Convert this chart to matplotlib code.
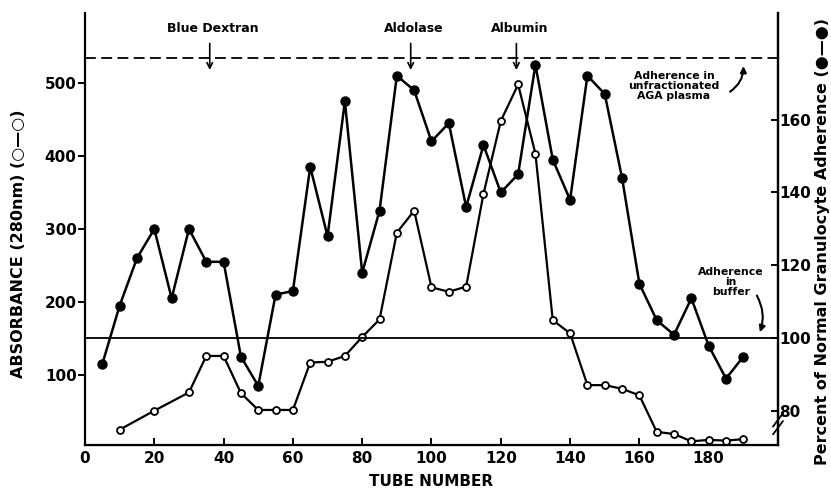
import matplotlib
matplotlib.use("Agg")
import matplotlib.pyplot as plt

# absorbance (open circles, left axis)
abs_tubes = [10, 20, 30, 35, 40, 45, 50, 55, 60, 65, 70, 75, 80, 85, 90, 95,
             100, 105, 110, 115, 120, 125, 130, 135, 140, 145, 150, 155, 160,
             165, 170, 175, 180, 185, 190]
absorbance = [25, 51, 76, 126, 126, 75, 52, 52, 52, 117, 118, 126, 152, 176,
              295, 325, 220, 214, 221, 348, 448, 498, 403, 175, 157, 86, 86,
              81, 72, 22, 19, 9, 11, 10, 12]

# adherence (filled circles, right axis)
adh_tubes = list(range(5, 191, 5))
adherence = [93, 109, 122, 130, 111, 130, 121, 121, 95, 87, 112, 113, 147,
             128, 165, 118, 135, 172, 168, 154, 159, 136, 153, 140, 145, 175,
             149, 138, 172, 167, 144, 115, 105, 101, 111, 98, 89, 95]

x_ticks = list(range(0, 181, 20))
left_ticks = [100, 200, 300, 400, 500]
right_ticks = [80, 100, 120, 140, 160]

plasma_level = 534      # absorbance units
buffer_level = 100      # percent
markers = [("Blue Dextran", 36), ("Aldolase", 94), ("Albumin", 124.5)]

plt.rcParams["font.family"] = ["DejaVu Sans"]
plt.rcParams["font.weight"] = "bold"


def to_right(v):
    return v / 5 + 70


fig = plt.figure(figsize=(8.31, 4.93), dpi=100)
ax = fig.add_axes([0.1023, 0.0974, 0.8339, 0.8763])
ax.set_xlim(0, 200)
ax.set_ylim(4, 596)
ax2 = ax.twinx()
ax2.set_ylim(to_right(4), to_right(596))

ax.spines["top"].set_visible(False)
ax2.spines["top"].set_visible(False)
for sp in ax.spines.values():
    sp.set_linewidth(1.6)
ax2.spines["right"].set_linewidth(1.6)
ax2.spines["left"].set_visible(False)

ax.axhline(plasma_level, color="black", lw=1.3, ls=(0, (6, 3)))
ax2.axhline(buffer_level, color="black", lw=1.3)

ax.plot(abs_tubes, absorbance, "-o", color="black", lw=1.6, ms=5,
        mfc="white", mec="black", mew=1.3, zorder=3)
ax2.plot(adh_tubes, adherence, "-o", color="black", lw=1.8, ms=6.5,
         mfc="black", mec="black", zorder=3)

ax.set_xticks(x_ticks)
ax.set_yticks(left_ticks)
ax2.set_yticks(right_ticks)
ax.tick_params(axis="x", direction="in", length=5, width=1.4, labelsize=11,
               pad=4)
ax.tick_params(axis="y", direction="out", length=5, width=1.4, labelsize=11,
               pad=1)
ax2.tick_params(axis="y", direction="in", length=5, width=1.4, labelsize=11,
                pad=1)
for lab in ax.get_xticklabels() + ax.get_yticklabels() + ax2.get_yticklabels():
    lab.set_fontweight("bold")

ax.set_xlabel("TUBE NUMBER", fontsize=11, fontweight="bold", labelpad=6)
fig.text(0.022, 0.505, "ABSORBANCE (280nm) (\u25cb\u2014\u25cb)", rotation=90,
         ha="center", va="center", fontsize=11.5, fontweight="bold")
fig.text(0.99, 0.51,
         "Percent of Normal Granulocyte Adherence (\u25cf\u2014\u25cf)",
         rotation=90, ha="center", va="center", fontsize=11.5,
         fontweight="bold")

# marker proteins
for name, tube in markers:
    ax.annotate("", xy=(tube, 514), xytext=(tube, 558),
                arrowprops=dict(arrowstyle="->", color="black", lw=1.2))
    ax.text(tube + 1, 575, name, ha="center", va="center", fontsize=9,
            fontweight="bold")

ax.text(170, 516, "Adherence in\nunfractionated\nAGA plasma", ha="center",
        va="top", fontsize=7.8, fontweight="bold", linespacing=1.0)
ax.annotate("", xy=(190, 527), xytext=(185.5, 486),
            arrowprops=dict(arrowstyle="-|>", color="black", lw=1.5,
                            connectionstyle="arc3,rad=0.3",
                            mutation_scale=9))
ax.text(186.5, 248, "Adherence\nin\nbuffer", ha="center", va="top",
        fontsize=7.8, fontweight="bold", linespacing=1.0)
ax.annotate("", xy=(194.5, 155), xytext=(193.5, 212),
            arrowprops=dict(arrowstyle="-|>", color="black", lw=1.5,
                            connectionstyle="arc3,rad=-0.25",
                            mutation_scale=9))

# axis break on the right spine
for dy in (0.0, 0.018):
    ax.plot([0.993, 1.007], [0.025 + dy, 0.055 + dy], transform=ax.transAxes,
            color="black", lw=1.3, clip_on=False)

fig.savefig("out.png", dpi=100)
